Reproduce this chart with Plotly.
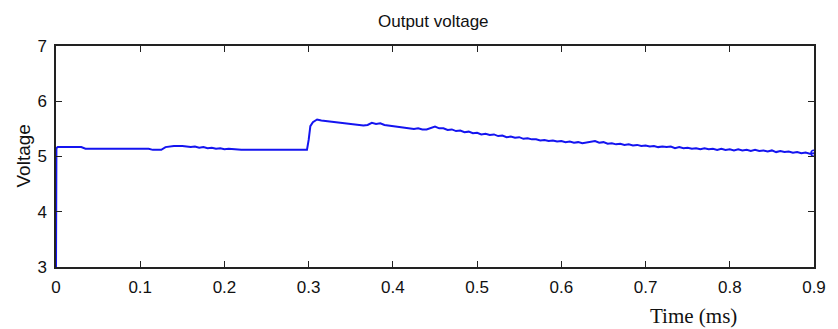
import plotly.graph_objects as go

time_ms = [0.0, 0.0005, 0.002, 0.01, 0.02, 0.03, 0.035, 0.06, 0.09, 0.11, 0.115, 0.125,
           0.13, 0.14, 0.15, 0.155, 0.16, 0.165, 0.17, 0.175, 0.18, 0.185, 0.19,
           0.195, 0.20, 0.205, 0.21, 0.22, 0.25, 0.28, 0.298, 0.300, 0.302, 0.305,
           0.31, 0.315, 0.32, 0.325, 0.33, 0.335, 0.34, 0.345, 0.35, 0.355, 0.36,
           0.365, 0.37, 0.375, 0.38, 0.385, 0.39, 0.395, 0.40, 0.405, 0.41, 0.415,
           0.42, 0.425, 0.43, 0.435, 0.44, 0.445, 0.45, 0.455, 0.46, 0.465, 0.47,
           0.475, 0.48, 0.485, 0.49, 0.495, 0.50, 0.505, 0.51, 0.515, 0.52, 0.525,
           0.53, 0.535, 0.54, 0.545, 0.55, 0.555, 0.56, 0.565, 0.57, 0.575, 0.58,
           0.585, 0.59, 0.595, 0.60, 0.605, 0.61, 0.615, 0.62, 0.625, 0.63, 0.635,
           0.64, 0.645, 0.65, 0.655, 0.66, 0.665, 0.67, 0.675, 0.68, 0.685, 0.69,
           0.695, 0.70, 0.705, 0.71, 0.715, 0.72, 0.725, 0.73, 0.735, 0.74, 0.745,
           0.75, 0.755, 0.76, 0.765, 0.77, 0.775, 0.78, 0.785, 0.79, 0.795, 0.80,
           0.805, 0.81, 0.815, 0.82, 0.825, 0.83, 0.835, 0.84, 0.845, 0.85, 0.855,
           0.86, 0.865, 0.87, 0.875, 0.88, 0.885, 0.89, 0.895, 0.90]
voltage = [3.0, 5.15, 5.17, 5.17, 5.16, 5.17, 5.14, 5.14, 5.14, 5.14, 5.12, 5.12,
           5.17, 5.19, 5.19, 5.18, 5.17, 5.18, 5.16, 5.17, 5.15, 5.16, 5.14,
           5.15, 5.13, 5.14, 5.13, 5.12, 5.12, 5.12, 5.12, 5.30, 5.55, 5.62,
           5.67, 5.65, 5.64, 5.63, 5.62, 5.61, 5.61, 5.60, 5.59, 5.58, 5.57,
           5.56, 5.57, 5.61, 5.59, 5.60, 5.57, 5.56, 5.56, 5.54, 5.54, 5.52,
           5.52, 5.50, 5.51, 5.49, 5.49, 5.52, 5.54, 5.51, 5.51, 5.48, 5.49,
           5.46, 5.47, 5.44, 5.45, 5.42, 5.43, 5.40, 5.41, 5.39, 5.40, 5.37,
           5.38, 5.35, 5.36, 5.34, 5.35, 5.32, 5.33, 5.31, 5.31, 5.29, 5.30,
           5.28, 5.29, 5.27, 5.28, 5.26, 5.27, 5.25, 5.26, 5.24, 5.25, 5.26,
           5.28, 5.25, 5.26, 5.23, 5.24, 5.22, 5.23, 5.21, 5.22, 5.20, 5.21,
           5.19, 5.20, 5.18, 5.19, 5.17, 5.18, 5.17, 5.18, 5.15, 5.17, 5.15,
           5.16, 5.14, 5.15, 5.13, 5.15, 5.13, 5.14, 5.12, 5.14, 5.12, 5.13,
           5.11, 5.13, 5.11, 5.12, 5.10, 5.12, 5.10, 5.11, 5.09, 5.11, 5.08,
           5.10, 5.08, 5.09, 5.07, 5.08, 5.06, 5.07, 5.05, 5.06]

x_ticks = [0, 0.1, 0.2, 0.3, 0.4, 0.5, 0.6, 0.7, 0.8, 0.9]
x_tick_labels = ["0", "0.1", "0.2", "0.3", "0.4", "0.5", "0.6", "0.7", "0.8", "0.9"]
y_ticks = [3, 4, 5, 6, 7]
y_tick_labels = ["3", "4", "5", "6", "7"]

W, H = 838, 329
L, R, T, B = 56, 12, 46, 62
PW, PH = W - L - R, H - T - B


def px(x):
    return (x - L) / PW


def py(y):
    return (H - B - y) / PH


LINE_COLOR = "#1414f0"
SANS = "Liberation Sans Narrow, Liberation Sans, Arial"

fig = go.Figure()
fig.add_trace(go.Scatter(x=time_ms, y=voltage, mode="lines",
                         line=dict(color=LINE_COLOR, width=2), showlegend=False))
fig.add_trace(go.Scatter(x=time_ms[-1:], y=voltage[-1:], mode="markers",
                         marker=dict(symbol="circle-open", size=6, color=LINE_COLOR,
                                     line=dict(width=1.5)), showlegend=False))

tickfont = dict(family=SANS, size=17, color="#111")
common = dict(showline=True, linecolor="#222", linewidth=1.5, mirror="allticks",
              ticks="inside", ticklen=6, tickcolor="#222", showgrid=False,
              zeroline=False, tickfont=tickfont)
fig.update_xaxes(range=[0, 0.9], tickvals=x_ticks, ticktext=x_tick_labels,
                 ticklabelstandoff=4, **common)
fig.update_yaxes(range=[3, 7], tickvals=y_ticks, ticktext=y_tick_labels,
                 ticklabelstandoff=4, **common)

fig.update_layout(
    width=W, height=H,
    margin=dict(l=L, r=R, t=T, b=B, pad=0),
    paper_bgcolor="white", plot_bgcolor="white",
    annotations=[
        dict(text="Output voltage", xref="paper", yref="paper",
             x=px(439), y=py(22), showarrow=False,
             xanchor="center", yanchor="middle",
             font=dict(family=SANS, size=17, color="#111")),
        dict(text="Time (ms)", xref="paper", yref="paper",
             x=px(704), y=py(316), showarrow=False,
             xanchor="center", yanchor="middle",
             font=dict(family="Liberation Serif, Times New Roman", size=21, color="#111")),
        dict(text="Voltage", xref="paper", yref="paper",
             x=px(22), y=py(156), showarrow=False,
             xanchor="center", yanchor="middle", textangle=-90,
             font=dict(family=SANS, size=19, color="#111")),
    ],
)

fig.write_html("out.html")
